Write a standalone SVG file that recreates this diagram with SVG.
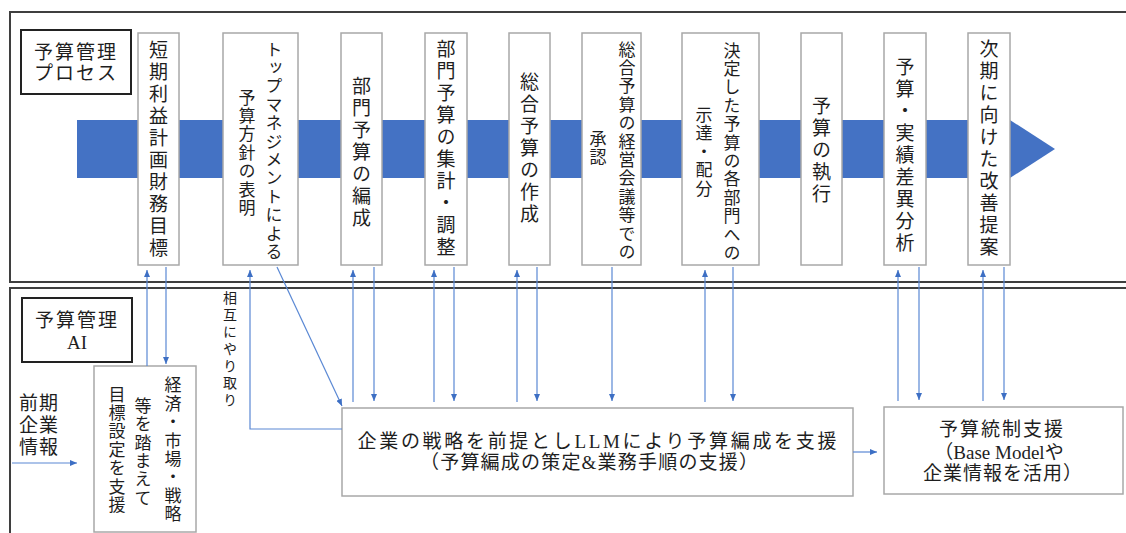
<svg xmlns="http://www.w3.org/2000/svg" width="1126" height="533" viewBox="0 0 1126 533">
<style>
.frame{fill:none;stroke:#3f3f3f;stroke-width:2}
.lbl{fill:#fff;stroke:#222;stroke-width:2}
.box{fill:#fff;stroke:#a8a8a8;stroke-width:1.5}
.t{font-family:"Liberation Serif","Noto Sans CJK JP",serif;fill:#1e1e1e;font-size:19px}
.v{font-family:"Noto Sans CJK JP",sans-serif;fill:#1e1e1e;writing-mode:vertical-rl;text-anchor:middle;font-size:19px;letter-spacing:3px}
.v2{font-size:17px;letter-spacing:1.4px}
.c{fill:none;stroke:#5a88d4;stroke-width:1.2}
.m{text-anchor:middle}
</style>
<defs>
<marker id="ah" markerUnits="userSpaceOnUse" markerWidth="7" markerHeight="6" refX="7" refY="3" orient="auto">
<path d="M0,0 L7,3 L0,6 z" fill="#3d6fc4"/>
</marker>
</defs>
<rect class="frame" x="10" y="12" width="1130" height="270"/>
<rect class="frame" x="10" y="288" width="1130" height="260"/>
<polygon points="77,120 1010,120 1055,149 1010,178 77,178" fill="#4472c4"/>
<g id="label-process">
<rect class="lbl" x="21" y="30" width="110" height="64"/>
<text class="t m" x="76" y="59" letter-spacing="2">予算管理</text>
<text class="t m" x="76" y="80" letter-spacing="2">プロセス</text>
</g>
<g id="step1"><rect class="box" x="138" y="33" width="41" height="232"/><text class="v" x="158.5" y="150">短期利益計画財務目標</text></g>
<g id="step2"><rect class="box" x="223" y="33" width="75" height="232"/><text class="v v2" x="274" y="151">トップマネジメントによる</text><text class="v v2" x="247" y="153">予算方針の表明</text></g>
<g id="step3"><rect class="box" x="341" y="33" width="41" height="232"/><text class="v" x="361.5" y="153">部門予算の編成</text></g>
<g id="step4"><rect class="box" x="425" y="33" width="42" height="232"/><text class="v" x="446" y="149">部門予算の集計・調整</text></g>
<g id="step5"><rect class="box" x="509" y="33" width="41" height="232"/><text class="v" x="529.5" y="149">総合予算の作成</text></g>
<g id="step6"><rect class="box" x="582" y="33" width="59" height="232"/><text class="v v2" x="627" y="151">総合予算の経営会議等での</text><text class="v v2" x="598" y="148">承認</text></g>
<g id="step7"><rect class="box" x="682" y="33" width="77" height="232"/><text class="v v2" x="732" y="152">決定した予算の各部門への</text><text class="v v2" x="704" y="152">示達・配分</text></g>
<g id="step8"><rect class="box" x="801" y="33" width="41" height="232"/><text class="v" x="821.5" y="151">予算の執行</text></g>
<g id="step9"><rect class="box" x="884" y="33" width="42" height="232"/><text class="v" x="905" y="156">予算・実績差異分析</text></g>
<g id="step10"><rect class="box" x="968" y="33" width="42" height="232"/><text class="v" x="989" y="149">次期に向けた改善提案</text></g>
<g id="label-ai">
<rect class="lbl" x="22" y="298" width="110" height="64"/>
<text class="t m" x="77" y="327" letter-spacing="2">予算管理</text>
<text class="t m" x="77" y="349">AI</text>
</g>
<g id="prev-info">
<text class="t m" x="39" y="410" letter-spacing="1">前期</text>
<text class="t m" x="39" y="432" letter-spacing="1">企業</text>
<text class="t m" x="39" y="454" letter-spacing="1">情報</text>
</g>
<g id="goal-support">
<rect class="box" x="94" y="366" width="102" height="166"/>
<text class="v v2" x="173" y="450">経済・市場・戦略</text>
<text class="v v2" x="143" y="452">等を踏まえて</text>
<text class="v v2" x="117" y="450">目標設定を支援</text>
</g>
<g id="mutual-label">
<text class="v" x="230" y="350" style="font-size:14px;letter-spacing:3px">相互にやり取り</text>
</g>
<g id="llm-support">
<rect class="box" x="342" y="408" width="511" height="88"/>
<text class="t m" x="597" y="448" textLength="479" lengthAdjust="spacing">企業の戦略を前提としLLMにより予算編成を支援</text>
<text class="t m" x="589" y="469" textLength="338" lengthAdjust="spacing">（予算編成の策定&amp;業務手順の支援）</text>
</g>
<g id="control-support">
<rect class="box" x="884" y="407" width="239" height="87"/>
<text class="t m" x="1002" y="436" letter-spacing="2">予算統制支援</text>
<text class="t m" x="999" y="459">（Base Modelや</text>
<text class="t m" x="1003" y="480" letter-spacing="1">企業情報を活用）</text>
</g>
<g id="connectors">
<line class="c" x1="12" y1="463" x2="77" y2="463" marker-end="url(#ah)"/>
<line class="c" x1="853" y1="452" x2="877" y2="452" marker-end="url(#ah)"/>
<line class="c" x1="147" y1="366" x2="147" y2="270" marker-end="url(#ah)"/>
<line class="c" x1="166" y1="267" x2="166" y2="364" marker-end="url(#ah)"/>
<polyline class="c" points="342,429 250,429 250,270" marker-end="url(#ah)"/>
<line class="c" x1="277" y1="267" x2="342" y2="406" marker-end="url(#ah)"/>
<line class="c" x1="353" y1="402" x2="353" y2="270" marker-end="url(#ah)"/>
<line class="c" x1="374" y1="267" x2="374" y2="401" marker-end="url(#ah)"/>
<line class="c" x1="434" y1="402" x2="434" y2="270" marker-end="url(#ah)"/>
<line class="c" x1="454" y1="267" x2="454" y2="401" marker-end="url(#ah)"/>
<line class="c" x1="517" y1="402" x2="517" y2="270" marker-end="url(#ah)"/>
<line class="c" x1="537" y1="267" x2="537" y2="401" marker-end="url(#ah)"/>
<line class="c" x1="612" y1="267" x2="612" y2="401" marker-end="url(#ah)"/>
<line class="c" x1="705" y1="402" x2="705" y2="270" marker-end="url(#ah)"/>
<line class="c" x1="733" y1="267" x2="733" y2="401" marker-end="url(#ah)"/>
<line class="c" x1="898" y1="401" x2="898" y2="270" marker-end="url(#ah)"/>
<line class="c" x1="919" y1="267" x2="919" y2="400" marker-end="url(#ah)"/>
<line class="c" x1="983" y1="401" x2="983" y2="270" marker-end="url(#ah)"/>
<line class="c" x1="1004" y1="267" x2="1004" y2="400" marker-end="url(#ah)"/>
</g>
</svg>
